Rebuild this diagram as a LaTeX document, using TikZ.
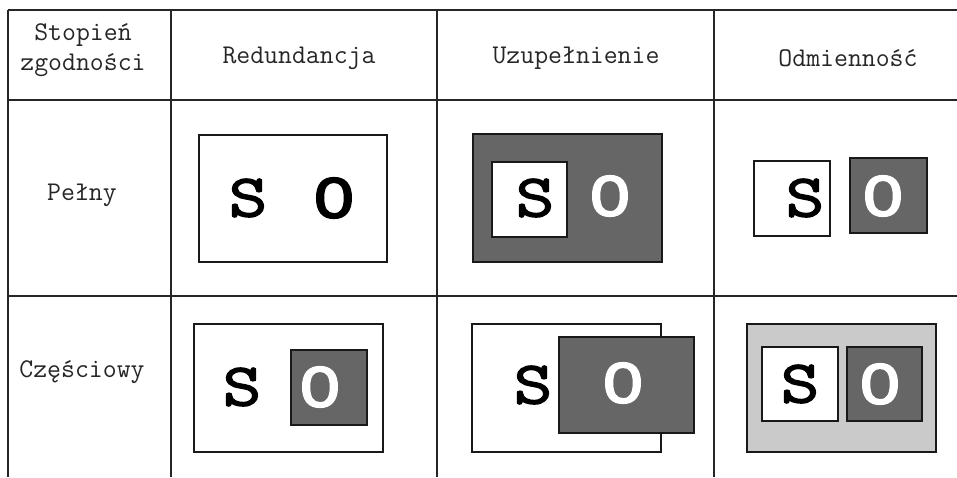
\documentclass[tikz,border=0pt]{standalone}
\usepackage{fontspec}
\newfontfamily\signfont[FakeBold=2.5, FakeStretch=1.25]{Latin Modern Mono}
\newfontfamily\ringfont[FakeBold=2.5, FakeStretch=1.15]{Liberation Mono}
\definecolor{darkfill}{RGB}{102,102,102}
\definecolor{lightfill}{RGB}{202,202,202}

\begin{document}
\begin{tikzpicture}[
  x=0.5pt, y=-0.5pt,
  tableline/.style={line width=1pt, color=black!85},
  frame/.style={draw=black!90, line width=0.9pt, fill=#1},
  frame/.default=white,
  head/.style={font=\ttfamily\fontsize{13.5}{15}\selectfont, align=center, text=black!85},
  letter/.style={font=\signfont\fontsize{30}{30}\selectfont, inner sep=0pt, text=#1},
  letter/.default=black,
  ring/.style={font=\ringfont\fontsize{30}{30}\selectfont, inner sep=0pt, text=#1},
  ring/.default=black
]
\useasboundingbox (0,0) rectangle (957,477);

% Table grid
\draw[tableline] (8,10) -- (957,10);
\draw[tableline] (8,100) -- (957,100);
\draw[tableline] (8,296) -- (957,296);
\foreach \x in {8,171,437,714}
  \draw[tableline] (\x,10) -- (\x,477);

% Header row
\node[head] (degree) at (83,50) {Stopień\\zgodności};
\node[head] (redund) at (299,58) {Redundancja};
\node[head] (supple) at (576,58) {Uzupełnienie};
\node[head] (differ) at (848,58) {Odmienność};

% Row labels
\node[head] (full) at (82,195) {Pełny};
\node[head] (partial) at (82,372) {Częściowy};

% Full: redundancy
\draw[frame] (199,135) rectangle (387,262);
\node[letter] (s11) at (248,198) {S};
\node[ring] (o11) at (334,198) {O};

% Full: supplement
\draw[frame=darkfill] (473,134) rectangle (662,262);
\draw[frame] (492,162) rectangle (567,237);
\node[letter] (s12) at (535,198) {S};
\node[ring=white] (o12) at (610,196) {O};

% Full: difference
\draw[frame] (754,161) rectangle (830,236);
\draw[frame=darkfill] (850,158) rectangle (927,233);
\node[letter] (s13) at (805,198) {S};
\node[ring=white] (o13) at (883,196) {O};

% Partial: redundancy
\draw[frame] (194,324) rectangle (383,452);
\draw[frame=darkfill] (291,350) rectangle (367,425);
\node[letter] (s21) at (242,387) {S};
\node[ring=white] (o21) at (320,387) {O};

% Partial: supplement
\draw[frame] (472,324) rectangle (661,452);
\draw[frame=darkfill] (559,337) rectangle (694,433);
\node[letter] (s22) at (533,385) {S};
\node[ring=white] (o22) at (623,383) {O};

% Partial: difference
\draw[frame=lightfill] (747,324) rectangle (936,452);
\draw[frame] (762,347) rectangle (838,421);
\draw[frame=darkfill] (847,347) rectangle (922,421);
\node[letter] (s23) at (800,384) {S};
\node[ring=white] (o23) at (880,384) {O};

\end{tikzpicture}
\end{document}
